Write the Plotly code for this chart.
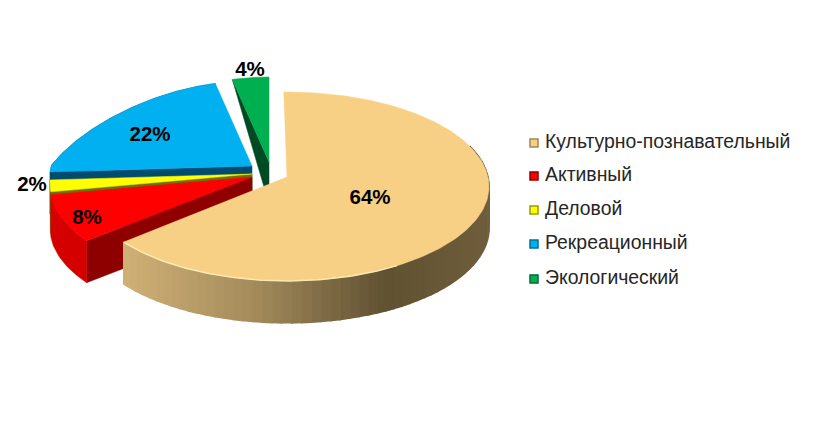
import math
import plotly.graph_objects as go

categories = ["Культурно-познавательный", "Активный", "Деловой", "Рекреационный", "Экологический"]
percent_values = [64, 8, 2, 22, 4]
label_texts = ["64%", "8%", "2%", "22%", "4%"]

# layout (axes are in screen pixels; the page body has an 8px margin)
W, H = 822, 431
PAGE = 8
A, B, K = 201.0, 93.5, 0.10
DEPTH = 42
centers = [(287, 177), (252, 177), (252, 174), (252, 166), (269, 162)]
rotations = [-1.0, 0, 0, 0, 0]
back_narrow = [0, 0, 0, 0.25, 0.25]
top_colors = ["#F7D085", "#FF0000", "#FFFF00", "#00B0F0", "#00B050"]
wall_colors = ["#A89060", "#8E0000", "#6E6E00", "#004B6E", "#004A24"]
arc_colors = [None, "#D40000", "#6E6E00", "#004B6E", "#004A24"]
legend_line = ["#A08850", "#8E0000", "#9A9A00", "#00709A", "#006B35"]
outer_drop = [DEPTH, DEPTH, DEPTH, DEPTH, 0]
label_x = [370, 87, 32, 150, 250]
label_y = [199, 219, 186, 136, 71]
legend_x, legend_text_x, legend_ys = 534, 545, [143, 176, 210, 244, 279]


def pt(i, deg):
    c = centers[i]
    t = math.radians(deg)
    cs = math.cos(t)
    s = 1 + K * cs
    return c[0] + A * math.sin(t) / s / (1 + back_narrow[i] * max(cs, 0)), c[1] - B * cs / s


def arc(i, a0, a1, step=1.0):
    n = max(2, int(abs(a1 - a0) / step) + 1)
    return [pt(i, a0 + (a1 - a0) * k / (n - 1)) for k in range(n)]


def poly(points, color, line=0.0):
    xs = [p[0] for p in points] + [points[0][0]]
    ys = [p[1] for p in points] + [points[0][1]]
    return go.Scatter(x=xs, y=ys, mode="lines", fill="toself", fillcolor=color,
                      line=dict(color=color, width=line), showlegend=False, hoverinfo="skip")


def side_color(x):
    stops = [(122, (208, 177, 118)), (250, (165, 140, 92)), (385, (96, 81, 50)), (490, (112, 94, 60))]
    for (x0, c0), (x1, c1) in zip(stops, stops[1:]):
        if x <= x1:
            f = max(0, (x - x0) / (x1 - x0))
            return "rgb(%d,%d,%d)" % tuple(round(c0[n] + (c1[n] - c0[n]) * f) for n in range(3))
    return "rgb(112,94,60)"


fig = go.Figure()
spans, acc = [], 0
for v in percent_values:
    spans.append((acc * 3.6, (acc + v) * 3.6))
    acc += v

for i in [4, 3, 2, 1, 0]:
    a0, a1 = spans[i][0] + rotations[i], spans[i][1] + rotations[i]
    c = centers[i]
    top = [c] + arc(i, a0, a1)
    corner = pt(i, a0)
    if i != 0:
        wall = [c, corner, (corner[0], corner[1] + outer_drop[i]), (c[0], c[1] + DEPTH)]
        fig.add_trace(poly(wall, wall_colors[i], 0.5))
    if i == 0:
        lo, hi = max(a0, 70), a1
        steps = int((hi - lo) / 2.5)
        for j in range(steps):
            b0 = lo + (hi - lo) * j / steps
            b1 = lo + (hi - lo) * (j + 1) / steps
            up = arc(i, b0, b1, 0.5)
            strip = up + [(p[0], p[1] + DEPTH) for p in reversed(up)]
            fig.add_trace(poly(strip, side_color(sum(p[0] for p in up) / len(up)), 1.5))
    elif i != 4:
        up = arc(i, a0, a1)
        strip = up + [(p[0], p[1] + DEPTH) for p in reversed(up)]
        fig.add_trace(poly(strip, arc_colors[i], 0.5))
    fig.add_trace(poly(top, top_colors[i], 0.5))
    if i == 0:
        rim = arc(i, 150, a1)
        fig.add_trace(go.Scatter(x=[p[0] for p in rim], y=[p[1] for p in rim], mode="lines",
                                 line=dict(color="#FCE9B4", width=1.5), showlegend=False, hoverinfo="skip"))

fig.add_trace(go.Scatter(x=label_x, y=label_y, text=label_texts, mode="text",
                         textfont=dict(family="Liberation Sans", size=20.5, color="black", weight="bold"),
                         showlegend=False, hoverinfo="skip", textposition="middle center"))

for i, name in enumerate(categories):
    fig.add_trace(go.Scatter(x=[legend_x], y=[legend_ys[i]], mode="markers", name=name,
                             marker=dict(symbol="square", size=8, color=top_colors[i],
                                         line=dict(color=legend_line[i], width=1.5)),
                             showlegend=False, hoverinfo="skip"))
    fig.add_trace(go.Scatter(x=[legend_text_x], y=[legend_ys[i]], text=[name], mode="text", name=name,
                             textposition="middle right",
                             textfont=dict(family="Liberation Sans", size=19.4, color="#262626"),
                             showlegend=False, hoverinfo="skip"))

fig.update_layout(width=W - 2 * PAGE, height=H - 2 * PAGE, margin=dict(l=0, r=0, t=0, b=0), autosize=False,
                  paper_bgcolor="white", plot_bgcolor="white", showlegend=False,
                  xaxis=dict(range=[PAGE, W - PAGE], visible=False, fixedrange=True),
                  yaxis=dict(range=[H - PAGE, PAGE], visible=False, fixedrange=True))
fig.write_html("out.html", config={"displayModeBar": False})
